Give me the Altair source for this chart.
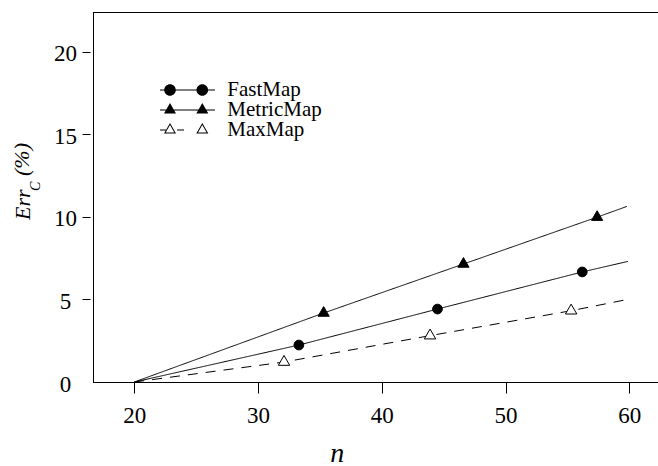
import altair as alt
import pandas as pd

# ---------------- data ----------------
series = ["FastMap", "MetricMap", "MaxMap"]
n_fast = [20, 33.3, 44.5, 56.2, 59.9]
err_fast = [0, 2.24, 4.42, 6.67, 7.31]
n_metric = [20, 35.3, 46.6, 57.4, 59.8]
err_metric = [0, 4.18, 7.15, 9.99, 10.64]
n_max = [20, 32.1, 43.9, 55.3, 59.9]
err_max = [0, 1.21, 2.81, 4.32, 5.01]
marked = [False, True, True, True, False]
x_ticks = [20, 30, 40, 50, 60]
y_ticks = [0, 5, 10, 15, 20]

rows = []
for name, xs, ys in zip(series, [n_fast, n_metric, n_max], [err_fast, err_metric, err_max]):
    for i, (xv, yv) in enumerate(zip(xs, ys)):
        rows.append({"series": name, "n": xv, "err": yv, "order": i, "marked": marked[i]})
df = pd.DataFrame(rows)
legend_df = pd.DataFrame({"series": series})

# ---------------- layout / style ----------------
W, H = 565, 370
FONT = "Liberation Serif"
xscale = alt.Scale(domain=[16.663, 62.32], nice=False, zero=False)
yscale = alt.Scale(domain=[0, 22.424], nice=False, zero=False)

# R-style equilateral triangle centred on its centroid (unit path)
TRI = "M0,-1.155L1,0.577L-1,0.577Z"


# legend glyph paths (pixel units, size=4 -> scale 1)
def rect(x0, x1, h=0.5):
    return f"M{x0},{-h}L{x1},{-h}L{x1},{h}L{x0},{h}Z"


def circ(cx, r=5.8):
    return f"M{cx - r:.2f},0A{r},{r} 0 1,1 {cx + r:.2f},0A{r},{r} 0 1,1 {cx - r:.2f},0Z"


def tri(cx, s=6.0):
    return f"M{cx},{-1.155 * s:.3f}L{cx + s},{0.577 * s:.3f}L{cx - s},{0.577 * s:.3f}Z"


def tri_open(cx, s=6.0, k=0.711):
    si = s * k
    inner = f"M{cx},{-1.155 * si:.3f}L{cx - si:.3f},{0.577 * si:.3f}L{cx + si:.3f},{0.577 * si:.3f}Z"
    return tri(cx, s) + inner


p1, p2 = -17.5, 14.8
glyph_fast = rect(-27.5, 27.5) + circ(p1) + circ(p2)
glyph_metric = rect(-27.5, 27.5) + tri(p1) + tri(p2)
glyph_max = rect(-27.5, -21.5) + tri_open(p1) + rect(-10.5, -3.5) + tri_open(p2)

base = alt.Chart(df)
X = alt.X(
    "n:Q",
    scale=xscale,
    axis=alt.Axis(
        values=x_ticks, domain=False, grid=False, tickSize=11, tickColor="black",
        labelFont=FONT, labelFontSize=23, labelColor="black", labelBaseline="alphabetic",
        labelPadding=29.8, labelFlush=False, labelOverlap=False,
        title="n", titleFont=FONT, titleFontStyle="italic", titleFontWeight="normal",
        titleFontSize=28, titleColor="black", titleX=243.7, titleY=79.5,
        titleAlign="center", titleBaseline="alphabetic",
    ),
)
Y = alt.Y(
    "err:Q",
    scale=yscale,
    axis=alt.Axis(
        values=y_ticks, domain=False, grid=False, offset=3, tickSize=8, tickColor="black",
        tickOpacity={"condition": {"test": "datum.value == 0", "value": 0}, "value": 1},
        labelFont=FONT, labelFontSize=23, labelColor="black", labelAlign="center",
        labelBaseline="middle", labelPadding=17, labelOffset=2, labelOverlap=False,
        title=None,
    ),
)

lines = base.mark_line(color="black", strokeWidth=1).encode(
    x=X, y=Y, detail="series:N", order="order:Q",
    strokeDash=alt.StrokeDash(
        "series:N",
        scale=alt.Scale(domain=series, range=[[1, 0], [1, 0], [10, 8]]),
        legend=None,
    ),
)

pts = base.transform_filter("datum.marked")
fast_pts = pts.transform_filter("datum.series == 'FastMap'").mark_point(
    shape="circle", filled=True, fill="black", stroke="black", strokeWidth=1, size=95, opacity=1
).encode(x=X, y=Y)
metric_pts = pts.transform_filter("datum.series == 'MetricMap'").mark_point(
    shape=TRI, filled=True, fill="black", stroke="black", strokeWidth=1, size=125, opacity=1
).encode(x=X, y=Y)
max_pts = pts.transform_filter("datum.series == 'MaxMap'").mark_point(
    shape=TRI, filled=True, fill="white", stroke="black", strokeWidth=1, size=130, opacity=1
).encode(x=X, y=Y)

# ---------------- legend (own row scale) ----------------
LY = alt.Y("series:N", scale=alt.Scale(type="point", domain=series, range=[78, 118], padding=0),
           axis=None)
leg_sym = alt.Chart(legend_df).mark_point(
    filled=True, color="black", strokeWidth=0, opacity=1, size=4
).encode(
    x=alt.value(94.5),
    y=LY,
    shape=alt.Shape("series:N",
                    scale=alt.Scale(domain=series, range=[glyph_fast, glyph_metric, glyph_max]),
                    legend=None),
)
leg_txt = alt.Chart(legend_df).mark_text(
    font=FONT, fontSize=21, color="black", align="left", baseline="middle"
).encode(x=alt.value(134.3), y=LY, text="series:N")
legend = alt.layer(leg_sym, leg_txt)

one = alt.Data(values=[{"k": 1}])
frame_left = alt.Chart(one).mark_rule(color="black", strokeWidth=1).encode(
    x=alt.value(0.5), y=alt.value(0), y2=alt.value(H + 0.5))
frame_top = alt.Chart(one).mark_rule(color="black", strokeWidth=1).encode(
    x=alt.value(0), x2=alt.value(W), y=alt.value(0.5))
frame_bottom = alt.Chart(one).mark_rule(color="black", strokeWidth=1).encode(
    x=alt.value(0), x2=alt.value(W), y=alt.value(H + 0.5))

ytxt = dict(font=FONT, fontStyle="italic", angle=270, align="left",
            baseline="alphabetic", color="black")
t_err = alt.Chart(one).mark_text(text="Err", fontSize=22, **ytxt).encode(
    x=alt.value(-63), y=alt.value(208))
t_sub = alt.Chart(one).mark_text(text="C", fontSize=14, **ytxt).encode(
    x=alt.value(-53), y=alt.value(179))
t_pct = alt.Chart(one).mark_text(text="(%)", fontSize=22, **ytxt).encode(
    x=alt.value(-64), y=alt.value(164))

main = alt.layer(
    frame_left, frame_top, frame_bottom,
    lines, fast_pts, metric_pts, max_pts,
    t_err, t_sub, t_pct,
)

chart = alt.layer(main, legend).resolve_scale(y="independent").properties(
    width=W, height=H,
    autosize=alt.AutoSizeParams(type="none"),
    padding={"left": 93, "top": 12, "right": 0, "bottom": 84},
).configure_view(stroke=None)

chart.save("out.html", embed_options={"renderer": "svg", "actions": False})
